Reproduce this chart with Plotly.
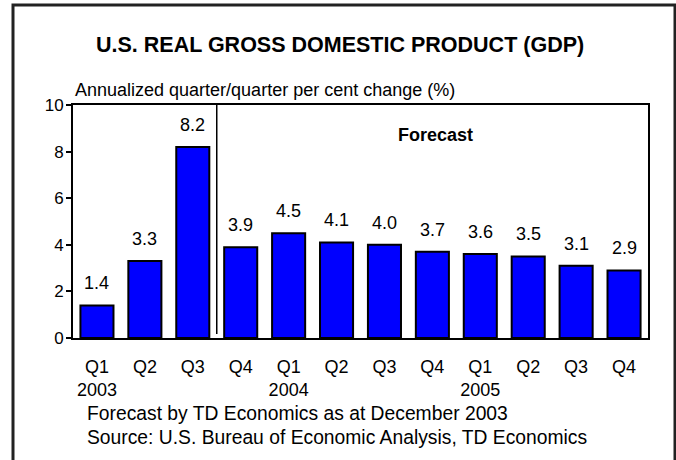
import plotly.graph_objects as go

# Quarterly real GDP growth, annualized q/q % change
quarters = ["Q1", "Q2", "Q3", "Q4", "Q1", "Q2", "Q3", "Q4", "Q1", "Q2", "Q3", "Q4"]
years = ["2003", "", "", "", "2004", "", "", "", "2005", "", "", ""]
growth = [1.4, 3.3, 8.2, 3.9, 4.5, 4.1, 4.0, 3.7, 3.6, 3.5, 3.1, 2.9]
y_ticks = [0, 2, 4, 6, 8, 10]

positions = list(range(len(growth)))
tick_text = [q + ("<br>" + y if y else "<br> ") for q, y in zip(quarters, years)]

W, H = 676, 460
L, R, T, B = 73, 28, 105, 122
pw, ph = W - L - R, H - T - B


def px_x(px):
    return (px - L) / pw


def px_y(py):
    return (H - B - py) / ph


FONT = "Arial, Liberation Sans, sans-serif"

fig = go.Figure()
fig.add_trace(go.Bar(
    x=positions,
    y=growth,
    marker=dict(color="#0000FF", line=dict(color="black", width=2)),
    width=0.69,
    hoverinfo="skip",
))

# value labels above each bar
for xi, v in zip(positions, growth):
    fig.add_annotation(x=xi, y=v, xref="x", yref="y", text=f"{v:.1f}",
                       showarrow=False, yanchor="bottom", yshift=10,
                       font=dict(size=18, color="black", family=FONT))

# divider between actual data and forecast
fig.add_shape(type="line", xref="x", yref="y", x0=2.5, x1=2.5, y0=0.17, y1=10,
              line=dict(color="black", width=1.5))

fig.add_annotation(x=px_x(435), y=px_y(135), xref="paper", yref="paper",
                   text="<b>Forecast</b>", showarrow=False, yanchor="middle",
                   font=dict(size=18, color="black", family=FONT))

# chart title and axis caption
fig.add_annotation(x=px_x(340), y=px_y(45), xref="paper", yref="paper",
                   text="<b>U.S. REAL GROSS DOMESTIC PRODUCT (GDP)</b>",
                   showarrow=False, yanchor="middle",
                   font=dict(size=21.5, color="black", family=FONT))
fig.add_annotation(x=px_x(73), y=px_y(90), xref="paper", yref="paper",
                   xanchor="left", yanchor="middle", showarrow=False,
                   text="Annualized quarter/quarter per cent change (%)",
                   font=dict(size=18, color="black", family=FONT))

# footnotes
for text, py in [("Forecast by TD Economics as at December 2003", 413),
                 ("Source: U.S. Bureau of Economic Analysis, TD Economics", 437)]:
    fig.add_annotation(x=px_x(85), y=px_y(py), xref="paper", yref="paper",
                       xanchor="left", yanchor="middle", showarrow=False, text=text,
                       font=dict(size=19.3, color="black", family=FONT))

# outer frame
fig.add_shape(type="rect", xref="paper", yref="paper",
              x0=px_x(13), x1=px_x(675), y0=px_y(480), y1=px_y(5),
              line=dict(color="#222222", width=3), layer="above")

fig.update_layout(
    width=W, height=H,
    margin=dict(l=L, r=R, t=T, b=B),
    paper_bgcolor="white", plot_bgcolor="white",
    showlegend=False,
    bargap=0.3,
    xaxis=dict(
        tickmode="array", tickvals=positions, ticktext=tick_text,
        range=[-0.5, len(growth) - 0.5],
        showline=True, linecolor="black", linewidth=2, mirror=True,
        ticks="", showgrid=False, zeroline=False,
        ticklabelstandoff=11,
        tickfont=dict(size=18, color="black", family=FONT),
    ),
    yaxis=dict(
        range=[0, 10], tickvals=y_ticks,
        showline=True, linecolor="black", linewidth=2, mirror=True,
        ticks="outside", ticklen=5, tickwidth=1.5, tickcolor="black",
        showgrid=False, zeroline=False,
        ticklabelstandoff=-1,
        tickfont=dict(size=17, color="black", family=FONT),
    ),
)

fig.write_html("out.html")
